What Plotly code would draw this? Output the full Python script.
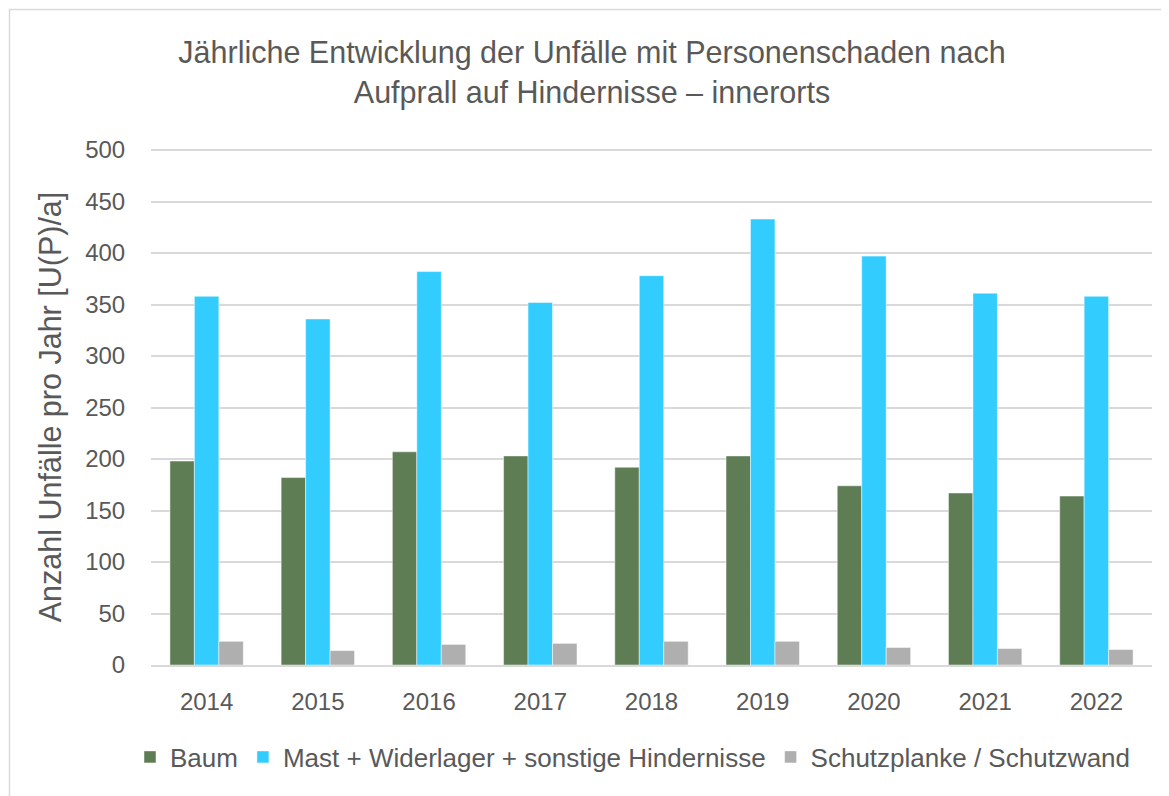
import plotly.graph_objects as go

years = ["2014", "2015", "2016", "2017", "2018", "2019", "2020", "2021", "2022"]
baum = [198, 182, 207, 203, 192, 203, 174, 167, 164]
mast = [358, 336, 382, 352, 378, 433, 397, 361, 358]
schutz = [23, 14, 20, 21, 23, 23, 17, 16, 15]

names = ["Baum", "Mast + Widerlager + sonstige Hindernisse", "Schutzplanke / Schutzwand"]
colors = ["#5E7D55", "#33CCFF", "#AFAFAF"]

FONT = "Liberation Sans Narrow, Arial Narrow, Liberation Sans, Arial, sans-serif"
TXT = "#595959"

fig = go.Figure()
for name, vals, col in zip(names, [baum, mast, schutz], colors):
    fig.add_trace(go.Bar(x=years, y=vals, name=name,
                         marker=dict(color=col, line=dict(color="rgba(255,255,255,0.6)", width=0.8))))

# page has an 8px body margin: figure coords = screen coords - 8
OFF = 8
W, H = 1169, 796
L = 151 - OFF
T = 149 - OFF
RIGHT = 1152 - OFF
BOTTOM = 665 - OFF
R = W - RIGHT
B = H - BOTTOM
pw = W - L - R
ph = H - T - B

def px(x):
    return (x - OFF - L) / pw

def py(y):
    return (H - B - (y - OFF)) / ph

fig.update_layout(
    width=W, height=H,
    margin=dict(l=L, r=R, t=T, b=B, autoexpand=False),
    paper_bgcolor="white", plot_bgcolor="white",
    font=dict(family=FONT, color=TXT, size=24),
    barmode="group", bargap=0.34, bargroupgap=0,
    title=dict(text="Jährliche Entwicklung der Unfälle mit Personenschaden nach<br>Aufprall auf Hindernisse – innerorts",
               x=(592 - OFF) / W, xanchor="center", y=1 - 55 / H, yanchor="middle",
               font=dict(size=30.5, color=TXT, family=FONT)),
    legend=dict(orientation="h", xref="container", yref="container",
                x=(633 - OFF) / W, xanchor="center", y=1 - (758 - OFF - 1) / H, yanchor="middle",
                font=dict(size=26, color=TXT), itemwidth=30, traceorder="normal"),
    showlegend=True,
)
fig.update_yaxes(range=[0, 501], tickvals=list(range(0, 501, 50)), showgrid=True, gridcolor="#D9D9D9", gridwidth=1.5,
                 zeroline=False, showline=False, ticks="outside", ticklen=20, tickcolor="rgba(0,0,0,0)",
                 tickfont=dict(size=24, color=TXT),
                 title=dict(text="Anzahl Unfälle pro Jahr [U(P)/a]", font=dict(size=30.5, color=TXT), standoff=14))
fig.update_xaxes(showline=True, linecolor="#D9D9D9", linewidth=1.5, ticks="outside", ticklen=14,
                 tickcolor="rgba(0,0,0,0)", tickfont=dict(size=24, color=TXT))

fig.add_shape(type="rect", xref="paper", yref="paper", x0=px(9.5), x1=px(1190), y0=py(820), y1=py(9.5),
              line=dict(color="#D9D9D9", width=1.5), fillcolor="rgba(0,0,0,0)", layer="below")

fig.write_html("out.html")
